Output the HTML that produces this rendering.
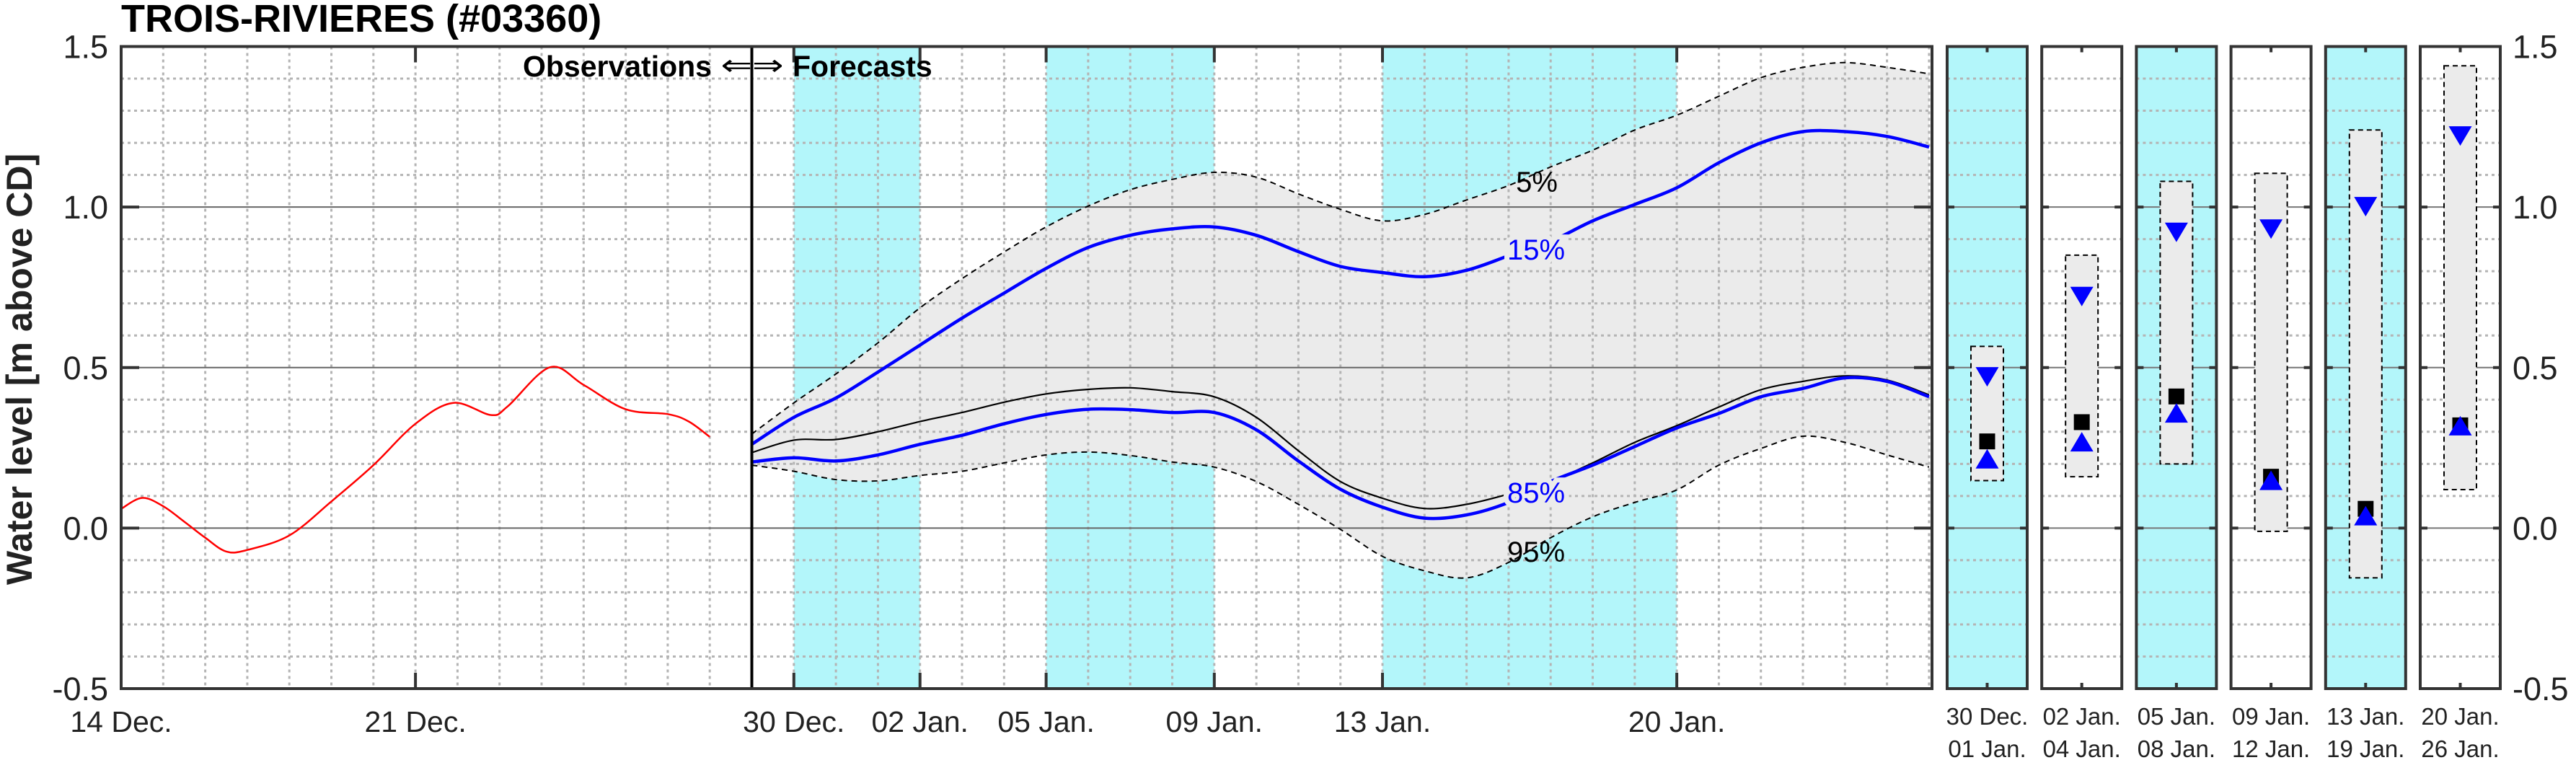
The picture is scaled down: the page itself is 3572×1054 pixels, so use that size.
<!DOCTYPE html>
<html><head><meta charset="utf-8"><style>
html,body{margin:0;padding:0;background:#fff;}
svg{display:block;font-family:"Liberation Sans",Arial,sans-serif;}
</style></head><body>
<svg id="chart" width="3572" height="1054" viewBox="0 0 3572 1054" xmlns="http://www.w3.org/2000/svg"></svg>
<script>
// ---- data ----
const obsDays = [0,0.5,1,1.5,2,2.5,3,4,5,6,7,7.9,8.8,9.2,10.2,11,12,13,13.5,14];
const obsValues = [0.06,0.094,0.068,0.02,-0.03,-0.073,-0.068,-0.023,0.083,0.196,0.325,0.39,0.352,0.38,0.501,0.446,0.37,0.355,0.332,0.284];
const fcDays = [15,16,17,18,19,20,21,22,23,24,25,26,27,28,29,30,31,32,33,34,35,36,37,38,39,40,41,42,43];
const p05 = [0.293,0.39,0.48,0.577,0.686,0.777,0.86,0.938,1.003,1.054,1.086,1.108,1.093,1.041,0.993,0.957,0.977,1.022,1.067,1.125,1.177,1.24,1.286,1.345,1.403,1.435,1.45,1.435,1.415];
const p15 = [0.261,0.345,0.405,0.486,0.57,0.654,0.732,0.809,0.874,0.912,0.932,0.938,0.912,0.861,0.815,0.796,0.783,0.803,0.848,0.893,0.957,1.008,1.06,1.138,1.2,1.235,1.235,1.22,1.187];
const p50 = [0.235,0.274,0.276,0.3,0.332,0.36,0.392,0.418,0.432,0.437,0.425,0.409,0.345,0.241,0.145,0.093,0.061,0.074,0.106,0.145,0.203,0.267,0.319,0.377,0.431,0.457,0.474,0.461,0.415];
const p85 = [0.206,0.219,0.209,0.228,0.261,0.289,0.325,0.354,0.37,0.369,0.36,0.36,0.306,0.209,0.121,0.065,0.031,0.041,0.08,0.145,0.196,0.254,0.312,0.357,0.409,0.435,0.468,0.457,0.409];
const p95 = [0.196,0.177,0.151,0.147,0.164,0.177,0.203,0.228,0.237,0.226,0.206,0.19,0.145,0.074,-0.004,-0.088,-0.133,-0.155,-0.107,-0.03,0.035,0.08,0.119,0.196,0.248,0.286,0.267,0.228,0.19];
const xTickDays = [0,7,16,19,22,26,30,37];
const xTickLabels = ["14 Dec.","21 Dec.","30 Dec.","02 Jan.","05 Jan.","09 Jan.","13 Jan.","20 Jan."];
const cyanStart = [16,22,30];
const cyanEnd = [19,26,37];
const yTicks = [-0.5,0,0.5,1.0,1.5];
const yTickLabels = ["-0.5","0.0","0.5","1.0","1.5"];
const panelTop = ["30 Dec.","02 Jan.","05 Jan.","09 Jan.","13 Jan.","20 Jan."];
const panelBottom = ["01 Jan.","04 Jan.","08 Jan.","12 Jan.","19 Jan.","26 Jan."];
const panelCyan = [1,0,1,0,1,0];
const boxHigh = [0.566,0.85,1.08,1.105,1.24,1.44];
const boxLow = [0.148,0.16,0.2,-0.01,-0.155,0.12];
const pan15 = [0.47,0.72,0.92,0.93,1.0,1.22];
const panMed = [0.27,0.33,0.41,0.16,0.06,0.32];
const pan85 = [0.217,0.27,0.36,0.15,0.04,0.32];

// ---- layout ----
const NS="http://www.w3.org/2000/svg";
const svg=document.getElementById('chart');
const X0=168,X1=2679,DMAX=43.07,Y0=64.5,Y1=955,VMIN=-0.5,VMAX=1.5;
const xs=d=>X0+(X1-X0)*d/DMAX;
const ys=v=>Y1-(Y1-Y0)*(v-VMIN)/(VMAX-VMIN);
function el(tag,attrs,parent){const e=document.createElementNS(NS,tag);for(const k in attrs)e.setAttribute(k,attrs[k]);(parent||svg).appendChild(e);return e;}
function smooth(pts){let d='M'+pts[0][0].toFixed(1)+','+pts[0][1].toFixed(1);
 for(let i=0;i<pts.length-1;i++){const p0=pts[i-1]||pts[i],p1=pts[i],p2=pts[i+1],p3=pts[i+2]||p2;
  const c1=[p1[0]+(p2[0]-p0[0])/6,p1[1]+(p2[1]-p0[1])/6],c2=[p2[0]-(p3[0]-p1[0])/6,p2[1]-(p3[1]-p1[1])/6];
  d+=' C'+c1[0].toFixed(1)+','+c1[1].toFixed(1)+' '+c2[0].toFixed(1)+','+c2[1].toFixed(1)+' '+p2[0].toFixed(1)+','+p2[1].toFixed(1);}
 return d;}
function txt(s,x,y,attrs,name){const t=el('text',Object.assign({x:x,y:y},attrs));t.textContent=s;
 
 return t;}

// main plot background bands
for(let i=0;i<cyanStart.length;i++){
 const r=el('rect',{x:xs(cyanStart[i]),y:Y0,width:xs(cyanEnd[i])-xs(cyanStart[i]),height:Y1-Y0,fill:'#b3f6fa'});
 
 
}
// forecast envelope
{const up=fcDays.map((d,i)=>[xs(d),ys(p05[i])]);const lo=fcDays.map((d,i)=>[xs(d),ys(p95[i])]).reverse();
 const dd=smooth(up)+' L'+smooth(lo).slice(1)+' Z';
 const p=el('path',{d:dd,fill:'#ebebeb'});
 
 }
// grid
for(let d=1;d<DMAX;d++){el('line',{x1:xs(d),x2:xs(d),y1:Y0,y2:Y1,stroke:'#b4b4b4','stroke-width':3,'stroke-dasharray':'4 5'});}
for(let k=-4;k<15;k++){const v=k/10;if(k%5===0)continue;el('line',{x1:X0,x2:X1,y1:ys(v),y2:ys(v),stroke:'#b4b4b4','stroke-width':3,'stroke-dasharray':'4 5'});}
[0,0.5,1.0].forEach(v=>{el('line',{x1:X0,x2:X1,y1:ys(v),y2:ys(v),stroke:'#666','stroke-width':2});
 el('line',{x1:X0,x2:X0+25,y1:ys(v),y2:ys(v),stroke:'#333','stroke-width':4});
 el('line',{x1:X1-25,x2:X1,y1:ys(v),y2:ys(v),stroke:'#333','stroke-width':4});});
xTickDays.forEach(d=>{el('line',{x1:xs(d),x2:xs(d),y1:Y0,y2:Y0+22,stroke:'#333','stroke-width':4});el('line',{x1:xs(d),x2:xs(d),y1:Y1-22,y2:Y1,stroke:'#333','stroke-width':4});});
// series
function line(days,vals,attrs,name){const p=el('path',Object.assign({d:smooth(days.map((d,i)=>[xs(d),ys(vals[i])])),fill:'none'},attrs));
 
 return p;}
line(obsDays,obsValues,{stroke:'#ff0000','stroke-width':2.5},'observed-line');
line(fcDays,p05,{stroke:'#000','stroke-width':2,'stroke-dasharray':'8 6'},'p05-line');
line(fcDays,p95,{stroke:'#000','stroke-width':2,'stroke-dasharray':'8 6'},'p95-line');
line(fcDays,p50,{stroke:'#000','stroke-width':2.2},'median-line');
line(fcDays,p15,{stroke:'#0000ff','stroke-width':4.5},'p15-line');
line(fcDays,p85,{stroke:'#0000ff','stroke-width':4.5},'p85-line');
// divider and frame
el('line',{x1:xs(15),x2:xs(15),y1:Y0,y2:Y1,stroke:'#000','stroke-width':4});
el('rect',{x:X0,y:Y0,width:X1-X0,height:Y1-Y0,fill:'none',stroke:'#333','stroke-width':4});
// percent labels
const lblAttrs={'font-size':40,'text-anchor':'middle','paint-order':'stroke','stroke':'#ebebeb','stroke-width':14};
txt('5%',2131,266,Object.assign({},lblAttrs,{fill:'#000','stroke-width':0}),'label-5pct');
txt('15%',2130,360,Object.assign({},lblAttrs,{fill:'#0000ff'}),'label-15pct');
txt('85%',2130,697,Object.assign({},lblAttrs,{fill:'#0000ff'}),'label-85pct');
txt('95%',2130,779,Object.assign({},lblAttrs,{fill:'#000','stroke-width':0}),'label-95pct');
// obs/forecast annotation
txt('Observations',987,106,{'font-size':41,'font-weight':'bold','text-anchor':'end',fill:'#000'},'observations-label');
txt('⇐⇒',1043,104,{'font-size':40,'text-anchor':'middle',fill:'#000','font-family':'DejaVu Sans, sans-serif','transform':'translate(1043 0) scale(1.3 1) translate(-1043 0)'},'obs-forecast-arrow');
txt('Forecasts',1099,106,{'font-size':41,'font-weight':'bold',fill:'#000'},'forecasts-label');
// y ticks labels
yTicks.forEach((v,i)=>{txt(yTickLabels[i],150,ys(v)+16,{'font-size':45,'text-anchor':'end',fill:'#222'},'y-tick-left');
 txt(yTickLabels[i],3484,ys(v)+16,{'font-size':45,fill:'#222'},'y-tick-right');});
xTickDays.forEach((d,i)=>{txt(xTickLabels[i],xs(d),1015,{'font-size':41,'text-anchor':'middle',fill:'#222'},'x-tick-label');});
txt('TROIS-RIVIERES (#03360)',168,44,{'font-size':54,'font-weight':'bold',fill:'#000'},'chart-title');
txt('Water level [m above CD]',0,0,{'font-size':50,'font-weight':'bold','text-anchor':'middle',fill:'#222',transform:'translate(44 512) rotate(-90)'},'y-axis-title');

// panels
const PW=111,PX0=2700,PSTEP=131.2;
for(let i=0;i<panelTop.length;i++){
 const px=PX0+i*PSTEP,cx=px+PW/2;
 const g=el('g',{});
 
 
 el('rect',{x:px,y:Y0,width:PW,height:Y1-Y0,fill:panelCyan[i]?'#b3f6fa':'#fff'},g);
 for(let k=-4;k<15;k++){if(k%5===0)continue;el('line',{x1:px,x2:px+PW,y1:ys(k/10),y2:ys(k/10),stroke:'#b4b4b4','stroke-width':3,'stroke-dasharray':'4 5'},g);}
 [0,0.5,1.0].forEach(v=>{el('line',{x1:px,x2:px+PW,y1:ys(v),y2:ys(v),stroke:'#777','stroke-width':2},g);
  el('line',{x1:px,x2:px+10,y1:ys(v),y2:ys(v),stroke:'#333','stroke-width':4},g);
  el('line',{x1:px+PW-10,x2:px+PW,y1:ys(v),y2:ys(v),stroke:'#333','stroke-width':4},g);});
 el('line',{x1:cx,x2:cx,y1:Y0,y2:Y0+8,stroke:'#333','stroke-width':4},g);
 el('line',{x1:cx,x2:cx,y1:Y1-8,y2:Y1,stroke:'#333','stroke-width':4},g);
 const b=el('rect',{x:cx-22.5,y:ys(boxHigh[i]),width:45,height:ys(boxLow[i])-ys(boxHigh[i]),fill:'#ebebeb',stroke:'#000','stroke-width':2,'stroke-dasharray':'7 5'},g);
 
 
 const yd=ys(pan15[i]);
 const t1=el('polygon',{points:`${cx-16},${yd-14} ${cx+16},${yd-14} ${cx},${yd+13}`,fill:'#0000ff'},g);
 
 
 const ym=ys(panMed[i]);
 const sq=el('rect',{x:cx-11,y:ym-11,width:22,height:22,fill:'#000'},g);
 
 
 const yu=ys(pan85[i]);
 const t2=el('polygon',{points:`${cx-16},${yu+14} ${cx+16},${yu+14} ${cx},${yu-13}`,fill:'#0000ff'},g);
 
 
 el('rect',{x:px,y:Y0,width:PW,height:Y1-Y0,fill:'none',stroke:'#333','stroke-width':4},g);
 txt(panelTop[i],cx,1005,{'font-size':33,'text-anchor':'middle',fill:'#222'},'panel-label-start');
 txt(panelBottom[i],cx,1050,{'font-size':33,'text-anchor':'middle',fill:'#222'},'panel-label-end');
}
</script>
</body></html>
